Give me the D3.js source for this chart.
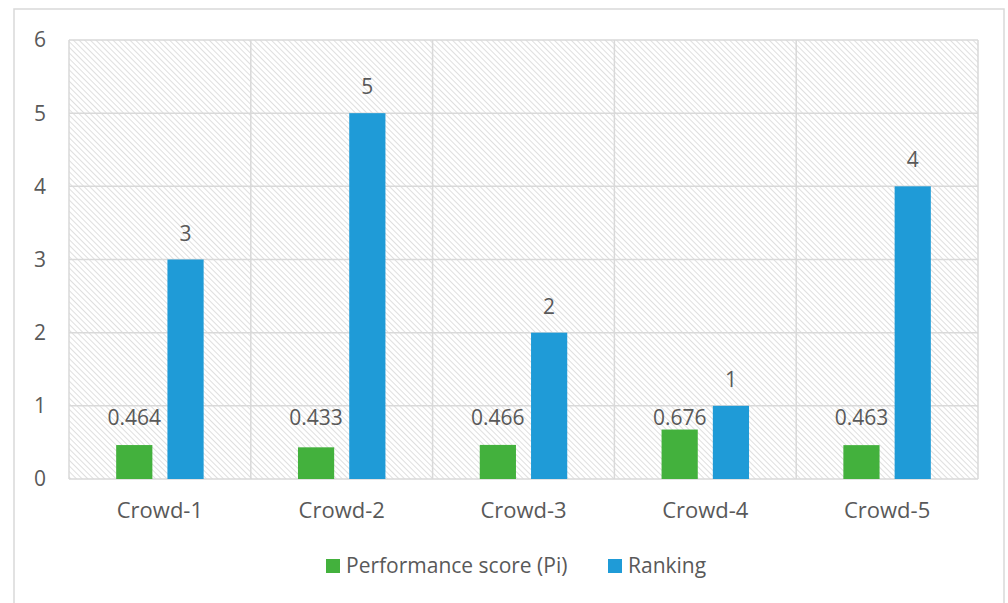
<!DOCTYPE html>
<html>
<head>
<meta charset="utf-8">
<script src="https://cdn.jsdelivr.net/npm/d3@7"></script>
<style>
  body { margin: 0; background: #fff; }
  svg text { font-family: "Open Sans", sans-serif; fill: #595959; }
</style>
</head>
<body>
<svg id="chart" width="1008" height="603"></svg>
<script>
const categories = ["Crowd-1", "Crowd-2", "Crowd-3", "Crowd-4", "Crowd-5"];
const seriesNames = ["Performance score (Pi)", "Ranking"];
const performance = [0.464, 0.433, 0.466, 0.676, 0.463];
const ranking = [3, 5, 2, 1, 4];
const perfLabels = ["0.464", "0.433", "0.466", "0.676", "0.463"];
const yTicks = [0, 1, 2, 3, 4, 5, 6];
const colors = ["#43b13d", "#1f9bd7"];

const svg = d3.select("#chart");
const margin = {left: 69, right: 30, top: 40, bottom: 124};
const width = 1008, height = 603;

// outer frame
svg.append("rect")
  .attr("x", 14).attr("y", 9)
  .attr("width", 990).attr("height", 600)
  .attr("fill", "#fff").attr("stroke", "#d9d9d9").attr("stroke-width", 1.5);

const defs = svg.append("defs");
const pat = defs.append("pattern")
  .attr("id", "hatch")
  .attr("patternUnits", "userSpaceOnUse")
  .attr("width", 4).attr("height", 4)
  .attr("patternTransform", "rotate(45)");
pat.append("rect").attr("width", 4).attr("height", 4).attr("fill", "#fff");
pat.append("line")
  .attr("x1", 0).attr("y1", 0).attr("x2", 4).attr("y2", 0)
  .attr("stroke", "#d2d2d2").attr("stroke-width", 1.4);

const x = d3.scaleBand()
  .domain(categories)
  .range([margin.left, width - margin.right]);

const y = d3.scaleLinear()
  .domain([0, 6])
  .range([height - margin.bottom, margin.top]);

const x1 = d3.scaleBand()
  .domain(seriesNames)
  .range([0, x.bandwidth()])
  .paddingInner(0.294)
  .paddingOuter(0.92);

// plot area
svg.append("rect")
  .attr("x", margin.left).attr("y", margin.top)
  .attr("width", x.range()[1] - x.range()[0])
  .attr("height", y(0) - y(6))
  .attr("fill", "url(#hatch)");

const grid = svg.append("g").attr("stroke", "#d9d9d9").attr("stroke-width", 1.5);
grid.selectAll("line.h")
  .data(yTicks)
  .join("line")
  .attr("class", "h")
  .attr("x1", margin.left).attr("x2", width - margin.right)
  .attr("y1", d => y(d)).attr("y2", d => y(d));
grid.selectAll("line.v")
  .data(categories.map(c => x(c)).concat([x.range()[1]]))
  .join("line")
  .attr("class", "v")
  .attr("x1", d => d).attr("x2", d => d)
  .attr("y1", y(6)).attr("y2", y(0));

// y axis labels
svg.append("g")
  .selectAll("text")
  .data(yTicks)
  .join("text")
  .attr("x", 40)
  .attr("y", d => y(d))
  .attr("dy", "0.35em")
  .attr("text-anchor", "middle")
  .attr("font-size", 21)
  .text(d => d);

// x axis labels
svg.append("g")
  .selectAll("text")
  .data(categories)
  .join("text")
  .attr("x", d => x(d) + x.bandwidth() / 2)
  .attr("y", 518)
  .attr("text-anchor", "middle")
  .attr("font-size", 22)
  .text(d => d);

const rows = categories.map((c, i) => ({cat: c, vals: [performance[i], ranking[i]], labels: [perfLabels[i], String(ranking[i])]}));

const groups = svg.append("g")
  .selectAll("g")
  .data(rows)
  .join("g")
  .attr("transform", d => `translate(${x(d.cat)},0)`);

groups.selectAll("rect")
  .data(d => d.vals.map((v, j) => ({v, j, s: seriesNames[j]})))
  .join("rect")
  .attr("x", d => x1(d.s))
  .attr("width", x1.bandwidth())
  .attr("y", d => y(d.v))
  .attr("height", d => y(0) - y(d.v))
  .attr("fill", d => colors[d.j]);

groups.selectAll("text")
  .data(d => d.vals.map((v, j) => ({v, j, s: seriesNames[j], label: d.labels[j]})))
  .join("text")
  .attr("x", d => x1(d.s) + x1.bandwidth() / 2)
  .attr("y", d => d.j === 0 ? y(1) + 19 : y(d.v) - 19)
  .attr("text-anchor", "middle")
  .attr("font-size", 21)
  .text(d => d.label);

// legend
const legendItems = [{name: seriesNames[0], x: 326}, {name: seriesNames[1], x: 608}];
const legend = svg.append("g")
  .selectAll("g")
  .data(legendItems)
  .join("g")
  .attr("transform", d => `translate(${d.x},559)`);
legend.append("rect")
  .attr("width", 14).attr("height", 14)
  .attr("fill", (d, i) => colors[i]);
legend.append("text")
  .attr("x", 20).attr("y", 7).attr("dy", "0.35em")
  .attr("font-size", 21)
  .text(d => d.name);
</script>
</body>
</html>
